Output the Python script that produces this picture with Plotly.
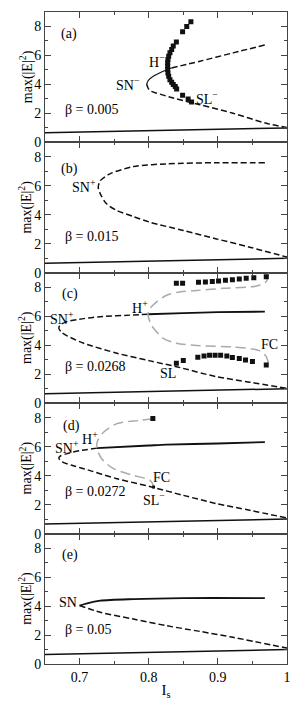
import plotly.graph_objects as go
from plotly.subplots import make_subplots

# ---------------- data ----------------
# lower homogeneous branch (same in every panel)
base_x = [0.65, 0.75, 0.85, 0.95, 1.0]
base_y = [0.66, 0.75, 0.84, 0.93, 1.0]

# panel (a) beta = 0.005
a_lowdash_x = [0.797, 0.7995, 0.804, 0.8115, 0.8355, 0.874, 0.922, 0.970, 1.0]
a_lowdash_y = [4.03, 3.71, 3.52, 3.40, 3.06, 2.60, 2.01, 1.32, 1.02]
a_solid_x = [0.797, 0.7995, 0.8066, 0.821, 0.833]
a_solid_y = [4.03, 4.28, 4.56, 4.91, 5.14]
a_updash_x = [0.833, 0.874, 0.922, 0.968]
a_updash_y = [5.14, 5.60, 6.18, 6.72]
a_sq_x = [0.861, 0.855, 0.849, 0.840, 0.8355, 0.8332, 0.8307, 0.8289, 0.8278, 0.8274, 0.8274,
          0.8274, 0.8278, 0.8289, 0.8307, 0.8332, 0.8355, 0.8384, 0.8404, 0.849, 0.857, 0.862]
a_sq_y = [8.32, 8.00, 7.64, 6.93, 6.65, 6.42, 6.18, 5.95, 5.72, 5.49, 5.26,
          5.03, 4.79, 4.56, 4.33, 4.15, 3.99, 3.85, 3.68, 3.25, 2.99, 2.78]

# panel (b) beta = 0.015
b_dash_x = [0.968, 0.90, 0.826, 0.778, 0.744, 0.730, 0.727, 0.730, 0.739, 0.754, 0.778, 0.802, 0.850, 0.898, 0.946, 1.0]
b_dash_y = [7.59, 7.60, 7.52, 7.33, 6.83, 6.36, 5.90, 5.45, 4.76, 4.30, 3.88, 3.49, 2.92, 2.34, 1.77, 1.08]

# panel (c) beta = 0.0268
c_dash_x = [0.799, 0.778, 0.730, 0.700, 0.682, 0.672, 0.670, 0.674, 0.682, 0.706, 0.754, 0.802, 0.840, 0.898, 0.946, 1.0]
c_dash_y = [6.14, 6.09, 5.97, 5.80, 5.63, 5.40, 5.17, 4.90, 4.65, 4.14, 3.45, 2.92, 2.52, 1.83, 1.45, 1.03]
c_solid_x = [0.799, 0.85, 0.90, 0.968]
c_solid_y = [6.14, 6.22, 6.28, 6.32]
c_gray_x = [0.973, 0.970, 0.956, 0.908, 0.869, 0.845, 0.826, 0.812, 0.802, 0.799, 0.802, 0.807, 0.821,
            0.840, 0.874, 0.922, 0.960, 0.970, 0.973]
c_gray_y = [8.95, 8.40, 8.09, 7.93, 7.78, 7.68, 7.45, 7.01, 6.55, 6.14, 5.59, 5.17, 4.48,
            4.14, 3.97, 3.88, 3.63, 3.21, 2.76]
c_sqtop_x = [0.840, 0.849, 0.872, 0.882, 0.892, 0.901, 0.911, 0.921, 0.931, 0.941, 0.952, 0.970]
c_sqtop_y = [8.28, 8.28, 8.34, 8.36, 8.40, 8.44, 8.48, 8.52, 8.57, 8.62, 8.66, 8.73]
c_sqbot_x = [0.840, 0.850, 0.871, 0.880, 0.888, 0.896, 0.904, 0.913, 0.921, 0.931, 0.940, 0.950, 0.970]
c_sqbot_y = [2.76, 2.94, 3.17, 3.26, 3.31, 3.31, 3.31, 3.26, 3.15, 3.08, 2.99, 2.87, 2.64]

# panel (d) beta = 0.0272
d_dash_x = [0.725, 0.700, 0.682, 0.672, 0.670, 0.675, 0.690, 0.706, 0.754, 0.804, 0.850, 0.898, 0.946, 1.0]
d_dash_y = [5.90, 5.72, 5.52, 5.35, 5.22, 4.95, 4.70, 4.48, 3.79, 3.22, 2.64, 2.07, 1.61, 1.08]
d_solid_x = [0.725, 0.80, 0.826, 0.90, 0.968]
d_solid_y = [5.90, 6.08, 6.14, 6.22, 6.32]
d_gray_x = [0.806, 0.787, 0.754, 0.735, 0.726, 0.725, 0.732, 0.749, 0.778, 0.802, 0.807]
d_gray_y = [7.93, 7.81, 7.59, 7.01, 6.40, 5.90, 5.17, 4.48, 4.02, 3.68, 3.30]
d_sq_x = [0.806]
d_sq_y = [7.95]
d_fc_x = [0.807]
d_fc_y = [3.22]

# panel (e) beta = 0.05
e_solid_x = [0.700, 0.711, 0.730, 0.778, 0.850, 0.968]
e_solid_y = [4.03, 4.19, 4.37, 4.48, 4.55, 4.55]
e_dash_x = [0.700, 0.730, 0.778, 0.826, 0.874, 0.922, 1.0]
e_dash_y = [4.03, 3.57, 3.10, 2.64, 2.25, 1.84, 1.10]

x_ticks = [0.7, 0.8, 0.9, 1.0]
x_ticktext = ["0.7", "0.8", "0.9", "1"]
y_ticks = [0, 2, 4, 6, 8]

# ---------------- figure ----------------
FONT = "Liberation Serif, Times New Roman, serif"
BLACK = "#111111"
GRAY = "#aaaaaa"

fig = make_subplots(rows=5, cols=1, shared_xaxes=True, vertical_spacing=0)


def line(r, x, y, dash=None, color=BLACK, width=1.5, shape="spline"):
    fig.add_trace(go.Scatter(x=x, y=y, mode="lines", line=dict(color=color, width=width, dash=dash, shape=shape, smoothing=0.8),
                             showlegend=False, hoverinfo="skip"), row=r, col=1)


def squares(r, x, y, size=5):
    fig.add_trace(go.Scatter(x=x, y=y, mode="markers", marker=dict(symbol="square", size=size, color=BLACK),
                             showlegend=False, hoverinfo="skip"), row=r, col=1)


BD = "6px,3px"
GD = "10px,5px"

for r in range(1, 6):
    line(r, base_x, base_y, shape="linear")

# (a)
line(1, a_lowdash_x, a_lowdash_y, dash=BD)
line(1, a_solid_x, a_solid_y, width=1.1)
line(1, a_updash_x, a_updash_y, dash=BD)
squares(1, a_sq_x, a_sq_y)
# (b)
line(2, b_dash_x, b_dash_y, dash=BD)
# (c)
line(3, c_dash_x, c_dash_y, dash=BD)
line(3, c_solid_x, c_solid_y, width=1.8)
line(3, c_gray_x, c_gray_y, dash=GD, color=GRAY)
squares(3, c_sqtop_x, c_sqtop_y)
squares(3, c_sqbot_x, c_sqbot_y)
# (d)
line(4, d_dash_x, d_dash_y, dash=BD)
line(4, d_solid_x, d_solid_y, width=1.8)
line(4, d_gray_x, d_gray_y, dash=GD, color=GRAY)
squares(4, d_sq_x, d_sq_y)
squares(4, d_fc_x, d_fc_y, size=3)
# (e)
line(5, e_solid_x, e_solid_y, width=1.8)
line(5, e_dash_x, e_dash_y, dash=BD)

AX = "#444444"
for r in range(1, 6):
    fig.update_yaxes(range=[0, 9], tickvals=y_ticks, ticks="inside", ticklen=6, tickcolor=AX,
                     showline=True, linecolor=AX, linewidth=1, mirror="ticks", showgrid=False, zeroline=False,
                     minor=dict(dtick=1, tick0=0, ticks="inside", ticklen=3, tickcolor=AX),
                     tickfont=dict(family=FONT, size=14, color="black"),
                     row=r, col=1)
    fig.update_xaxes(range=[0.65, 1.0], tickvals=x_ticks, ticktext=x_ticktext, ticks="inside", ticklen=6, tickcolor=AX,
                     showline=True, linecolor=AX, linewidth=1, mirror="ticks", showgrid=False, zeroline=False,
                     minor=dict(dtick=0.05, tick0=0.65, ticks="inside", ticklen=3, tickcolor=AX),
                     tickfont=dict(family=FONT, size=14, color="black"),
                     showticklabels=(r == 5), row=r, col=1)

fig.update_xaxes(title=dict(text="I<sub>s</sub>", font=dict(family=FONT, size=15, color="black"), standoff=0),
                 ticklabeloverflow="allow", row=5, col=1)


def ann(r, x, y, text, xanchor="center", size=14):
    fig.add_annotation(x=x, y=y, xref=f"x{'' if r == 1 else r}", yref=f"y{'' if r == 1 else r}", text=text,
                       showarrow=False, xanchor=xanchor, yanchor="middle",
                       font=dict(family=FONT, size=size, color="black"))


# y-axis titles, one per panel (rotated)
for r in range(1, 6):
    fig.add_annotation(x=0, y=4.5, xref="paper", yref=f"y{'' if r == 1 else r}", text="max(|E|<sup>2</sup>)",
                       textangle=-90, showarrow=False, xanchor="center", yanchor="middle", xshift=-19,
                       font=dict(family=FONT, size=14, color="black"))

ann(1, 0.684, 7.45, "(a)")
ann(1, 0.79, 4.05, "SN<sup>−</sup>", xanchor="right")
ann(1, 0.812, 5.6, "H<sup>−</sup>")
ann(1, 0.866, 3.05, "SL<sup>−</sup>", xanchor="left")
ann(1, 0.676, 2.25, "β = 0.005", xanchor="left")

ann(2, 0.686, 7.15, "(b)")
ann(2, 0.726, 5.97, "SN<sup>+</sup>", xanchor="right")
ann(2, 0.676, 2.5, "β = 0.015", xanchor="left")

ann(3, 0.686, 7.55, "(c)")
ann(3, 0.675, 5.9, "SN<sup>+</sup>")
ann(3, 0.787, 6.65, "H<sup>+</sup>")
ann(3, 0.975, 4.07, "FC")
ann(3, 0.828, 2.05, "SL")
ann(3, 0.676, 2.52, "β = 0.0268", xanchor="left")

ann(4, 0.689, 7.45, "(d)")
ann(4, 0.682, 5.98, "SN<sup>+</sup>")
ann(4, 0.715, 6.6, "H<sup>+</sup>")
ann(4, 0.819, 3.84, "FC")
ann(4, 0.807, 2.4, "SL<sup>−</sup>")
ann(4, 0.676, 2.88, "β = 0.0272", xanchor="left")

ann(5, 0.686, 7.5, "(e)")
ann(5, 0.699, 4.26, "SN", xanchor="right")
ann(5, 0.676, 2.41, "β = 0.05", xanchor="left")

fig.update_layout(width=302, height=706, margin=dict(l=45, r=15, t=11, b=39),
                  plot_bgcolor="white", paper_bgcolor="white",
                  font=dict(family=FONT, size=14, color="black"))

fig.write_html("out.html", config={"displayModeBar": False},
               post_script="document.body.style.margin='0';document.body.style.overflow='hidden';")
